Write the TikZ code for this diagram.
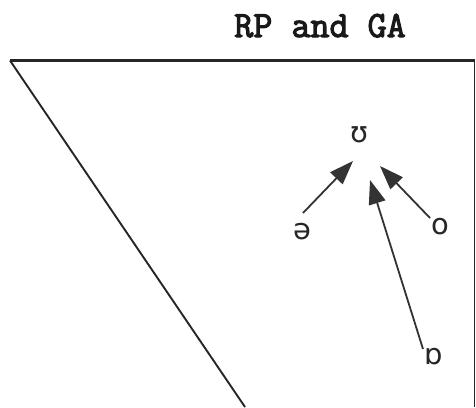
\documentclass[tikz,border=0pt]{standalone}
\usepackage{fontspec}
\setmainfont{DejaVu Sans}
\newfontfamily\titlefont[FakeBold=3]{Latin Modern Mono}
\usetikzlibrary{arrows.meta}
\begin{document}
\begin{tikzpicture}[x=1pt,y=-1pt,
  frameline/.style={draw=black!85, line width=1.8pt},
  vowel/.style={font=\fontsize{29}{29}\selectfont, text=black!85, inner sep=0pt},
  vowelshift/.style={draw=black!80, line width=1.8pt, -{Triangle[length=24pt,width=17pt]}}]
\useasboundingbox[fill=white] (0,0) rectangle (476,407);
% frame
\coordinate (tl) at (10,60.5);
\coordinate (tr) at (474.5,60.5);
\coordinate (br) at (474.5,407);
\coordinate (bl) at (245,407);
\draw[frameline, line width=2.6pt] (tl) -- (tr);
\draw[frameline, line width=1.5pt] (tr) -- (br);
\draw[frameline, line width=1.9pt] (tl) -- (bl);
% title
\node[font=\titlefont\bfseries\fontsize{37}{37}\selectfont, text=black!90, anchor=base] (title) at (320,37) {RP and GA};
% vowels
\node[vowel] (u) at (359,135) {ʊ};
\node[vowel] (schwa) at (302,232) {ə};
\node[vowel] (o) at (440,227) {o};
\node[vowel] (ao) at (434,357) {ɒ};
% arrow ends
\coordinate (s1) at (303,213);
\coordinate (t1) at (353,161);
\coordinate (s2) at (430,218);
\coordinate (t2) at (380,166);
\coordinate (s3) at (423,349);
\coordinate (t3) at (370,180);
\draw[vowelshift] (s1) -- (t1);
\draw[vowelshift] (s2) -- (t2);
\draw[vowelshift] (s3) -- (t3);
\end{tikzpicture}
\end{document}
